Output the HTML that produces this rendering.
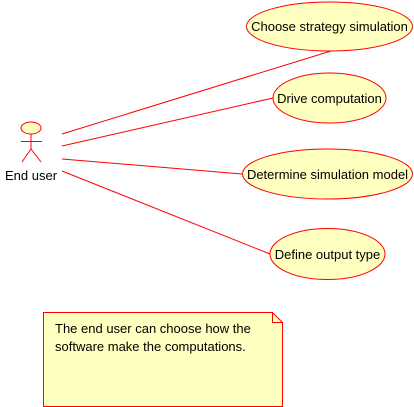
<!DOCTYPE html>
<html><head><style>
html,body{margin:0;padding:0;background:#fff;}
svg{display:block;}
text{font-family:"Liberation Sans",sans-serif;font-size:13px;fill:#000;}
</style></head><body>
<svg width="414" height="407" viewBox="0 0 414 407">
<g stroke="#f00" stroke-width="1" fill="none">
<line x1="62" y1="134" x2="331" y2="51"/>
<line x1="62" y1="146" x2="273" y2="98"/>
<line x1="62" y1="159" x2="242" y2="174"/>
<line x1="62" y1="171" x2="270" y2="254"/>
</g>
<g stroke="#f00" stroke-width="1" fill="#ffffc0">
<ellipse cx="329.5" cy="26.5" rx="83" ry="24.5"/>
<ellipse cx="329.5" cy="98" rx="56.5" ry="25"/>
<ellipse cx="327.5" cy="174" rx="85" ry="25"/>
<ellipse cx="327.5" cy="254" rx="57.5" ry="25.5"/>
<ellipse cx="31" cy="128" rx="10" ry="6"/>
<path d="M43.5 312.5 H272.5 L282.5 322.5 V406.5 H43.5 Z"/>
</g>
<g stroke="#f00" stroke-width="1" fill="none">
<path d="M272.5 312.5 V322.5 H282.5"/>
<line x1="31" y1="134" x2="31" y2="149"/>
<line x1="21" y1="141.5" x2="42" y2="141.5"/>
<line x1="31" y1="149" x2="22" y2="162"/>
<line x1="31" y1="149" x2="41" y2="162"/>
</g>
<text x="329.5" y="31" text-anchor="middle">Choose strategy simulation</text>
<text x="329.5" y="103" text-anchor="middle">Drive computation</text>
<text x="327.5" y="179" text-anchor="middle">Determine simulation model</text>
<text x="327.5" y="259" text-anchor="middle">Define output type</text>
<text x="5" y="180">End user</text>
<text x="55" y="333">The end user can choose how the</text>
<text x="55" y="351">software make the computations.</text>
</svg>
</body></html>
